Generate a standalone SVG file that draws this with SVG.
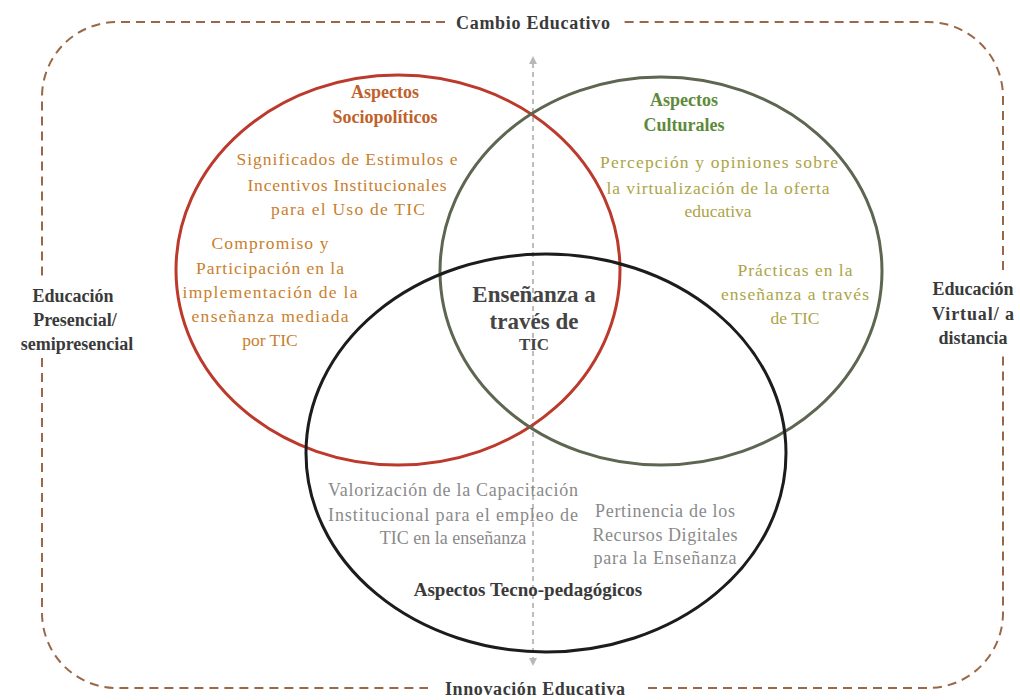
<svg xmlns="http://www.w3.org/2000/svg" width="1020" height="700" viewBox="0 0 1020 700">
<style>
text{font-family:"Liberation Serif","Times New Roman",serif;text-anchor:middle}
.b{font-weight:bold}
.frame{fill:none;stroke:#9a6846;stroke-width:2;stroke-dasharray:9 6}
.dark{fill:#3a3a3a;font-size:17px}
.side{fill:#3a3a3a;font-size:18px}
.red{fill:#c0612c;font-size:18px}
.redt{fill:#c9802e;font-size:17.5px}
.grn{fill:#5e8a3a;font-size:18px}
.olv{fill:#ada447;font-size:17.5px}
.gry{fill:#8a8a8a;font-size:18px}
</style>
<defs>
<marker id="ah" viewBox="0 0 10 10" refX="5" refY="5" markerWidth="4" markerHeight="4" orient="auto-start-reverse" markerUnits="strokeWidth">
<path d="M0,0 L10,5 L0,10 z" fill="#b8b8b8"/>
</marker>
</defs>
<rect width="1020" height="700" fill="#ffffff"/>
<g id="frame">
<path class="frame" d="M445 22 H117 A75 75 0 0 0 42 97 V278"/>
<path class="frame" d="M42 358 V613 A75 75 0 0 0 117 688 H428"/>
<path class="frame" d="M648 688 H928 A75 75 0 0 0 1003 613 V355"/>
<path class="frame" d="M1003 270 V97 A75 75 0 0 0 928 22 H622"/>
</g>
<g id="connectors">
<line x1="533" y1="662" x2="533" y2="60" stroke="#bdbdbd" stroke-width="2" stroke-dasharray="5 4" marker-start="url(#ah)" marker-end="url(#ah)"/>
</g>
<g id="sociopoliticos">
<ellipse cx="398" cy="270" rx="222" ry="195" fill="none" stroke="#bb3a2c" stroke-width="3"/>
</g>
<g id="culturales">
<ellipse cx="661" cy="271" rx="221" ry="194" fill="none" stroke="#5d6650" stroke-width="3"/>
</g>
<g id="tecnopedagogicos">
<ellipse cx="546" cy="453" rx="240" ry="199" fill="none" stroke="#1c1c1c" stroke-width="3"/>
</g>
<g id="labels">
<text class="b dark" x="533" y="29" style="font-size:18px" textLength="154" lengthAdjust="spacing">Cambio Educativo</text>
<text class="b dark" x="535" y="695" style="font-size:18px" textLength="180" lengthAdjust="spacing">Innovación Educativa</text>
<text class="b side" x="73" y="302">Educación</text>
<text class="b side" x="75" y="326">Presencial/</text>
<text class="b side" x="77" y="350">semipresencial</text>
<text class="b side" x="973" y="295">Educación</text>
<text class="b side" x="973" y="320" textLength="82" lengthAdjust="spacing">Virtual/ a</text>
<text class="b side" x="973" y="344">distancia</text>
</g>
<g id="socio-text">
<text class="b red" x="385" y="98">Aspectos</text>
<text class="b red" x="385" y="123">Sociopolíticos</text>
<text class="redt" x="347" y="165" textLength="221" lengthAdjust="spacing">Significados de Estimulos e</text>
<text class="redt" x="347" y="191" textLength="199" lengthAdjust="spacing">Incentivos Institucionales</text>
<text class="redt" x="348" y="215" textLength="154" lengthAdjust="spacing">para el Uso de TIC</text>
<text class="redt" x="270" y="249" textLength="117" lengthAdjust="spacing">Compromiso y</text>
<text class="redt" x="270" y="274" textLength="148" lengthAdjust="spacing">Participación en la</text>
<text class="redt" x="270" y="298" textLength="175" lengthAdjust="spacing">implementación de la</text>
<text class="redt" x="270" y="322" textLength="157" lengthAdjust="spacing">enseñanza mediada</text>
<text class="redt" x="270" y="346">por TIC</text>
</g>
<g id="cult-text">
<text class="b grn" x="684" y="106">Aspectos</text>
<text class="b grn" x="684" y="131">Culturales</text>
<text class="olv" x="719" y="168" textLength="238" lengthAdjust="spacing">Percepción y opiniones sobre</text>
<text class="olv" x="718" y="194" textLength="223" lengthAdjust="spacing">la virtualización de la oferta</text>
<text class="olv" x="718" y="217">educativa</text>
<text class="olv" x="795" y="276" textLength="115" lengthAdjust="spacing">Prácticas en la</text>
<text class="olv" x="795" y="300" textLength="148" lengthAdjust="spacing">enseñanza a través</text>
<text class="olv" x="795" y="324">de TIC</text>
</g>
<g id="center-text">
<text class="b" x="534" y="302" fill="#444" font-size="23">Enseñanza a</text>
<text class="b" x="534" y="329" fill="#444" font-size="23">través de</text>
<text class="b" x="534" y="350" fill="#444" font-size="17">TIC</text>
</g>
<g id="tecno-text">
<text class="gry" x="453" y="496" textLength="250" lengthAdjust="spacing">Valorización de la Capacitación</text>
<text class="gry" x="453" y="521" textLength="250" lengthAdjust="spacing">Institucional para el empleo de</text>
<text class="gry" x="453" y="544">TIC en la enseñanza</text>
<text class="gry" x="665" y="517" textLength="140" lengthAdjust="spacing">Pertinencia de los</text>
<text class="gry" x="665" y="541" textLength="145" lengthAdjust="spacing">Recursos Digitales</text>
<text class="gry" x="665" y="564" textLength="143" lengthAdjust="spacing">para la Enseñanza</text>
<text class="b dark" x="528" y="596" style="font-size:19px">Aspectos Tecno-pedagógicos</text>
</g>
</svg>
